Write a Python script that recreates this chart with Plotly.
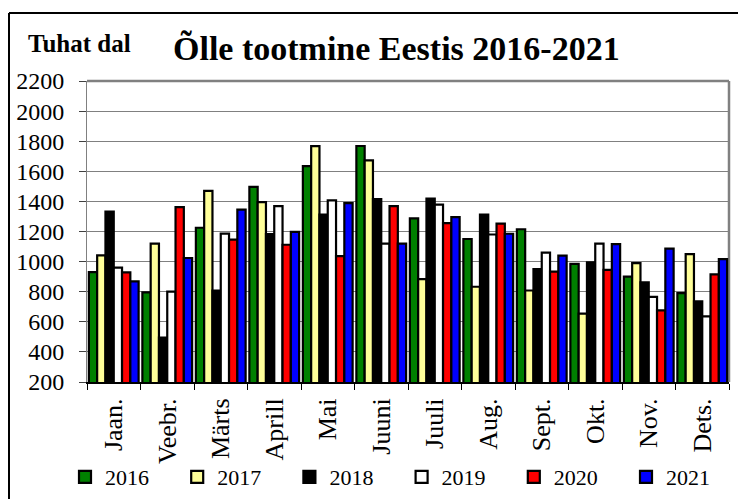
import plotly.graph_objects as go

months = ["Jaan.", "Veebr.", "Märts", "Aprill", "Mai", "Juuni", "Juuli", "Aug.", "Sept.", "Okt.", "Nov.", "Dets."]
years = ["2016", "2017", "2018", "2019", "2020", "2021"]
v2016 = [930, 795, 1225, 1497, 1635, 1768, 1287, 1150, 1215, 985, 900, 790]
v2017 = [1042, 1120, 1470, 1395, 1767, 1672, 883, 833, 808, 654, 990, 1050]
v2018 = [1332, 495, 808, 1182, 1312, 1416, 1418, 1312, 950, 995, 862, 736]
v2019 = [960, 800, 1186, 1368, 1407, 1120, 1378, 1180, 1060, 1120, 765, 636]
v2020 = [928, 1362, 1146, 1112, 1036, 1368, 1255, 1252, 933, 945, 676, 915]
v2021 = [868, 1024, 1345, 1198, 1388, 1120, 1296, 1185, 1040, 1116, 1086, 1017]
series = [v2016, v2017, v2018, v2019, v2020, v2021]
colors = ["#008000", "#ffff99", "#000000", "#ffffff", "#ff0000", "#0000ff"]

FONT = "Liberation Serif"

fig = go.Figure()
for name, vals, col in zip(years, series, colors):
    fig.add_trace(go.Bar(x=months, y=vals, name=name,
                         marker=dict(color=col, line=dict(color="black", width=2.2))))

L, R, T, B = 87, 9, 81, 117
W, H = 738, 499
pw, ph = W - L - R, H - T - B

def px(x):
    return (x - L) / pw

def py(y):
    return (H - B - y) / ph

fig.update_layout(
    width=W, height=H,
    margin=dict(l=L, r=R, t=T, b=B, autoexpand=False),
    paper_bgcolor="white", plot_bgcolor="white",
    barmode="group", bargap=0.07, bargroupgap=0,
    font=dict(family=FONT, color="black"),
    showlegend=True,
    legend=dict(orientation="h", x=px(65), xanchor="left", y=py(477), yanchor="middle",
                font=dict(family=FONT, size=22, color="black"),
                itemwidth=30, entrywidth=67.2, entrywidthmode="pixels",
                traceorder="normal", bgcolor="rgba(0,0,0,0)"),
    xaxis=dict(showline=True, linecolor="black", linewidth=2, automargin=False,
               ticks="outside", ticklen=6, tickcolor="black", tickson="boundaries",
               tickangle=-90, tickfont=dict(family=FONT, size=26, color="black"),
               ticklabelstandoff=4, showgrid=False),
    yaxis=dict(range=[200, 2200], dtick=200, tick0=200, automargin=False,
               showline=True, linecolor="#808080", linewidth=1,
               ticks="outside", ticklen=7, tickcolor="#404040",
               tickfont=dict(family=FONT, size=24, color="black"),
               ticklabelstandoff=10,
               showgrid=True, gridcolor="#808080", gridwidth=1),
    annotations=[
        dict(text="<b>Õlle tootmine Eestis 2016-2021</b>", xref="paper", yref="paper",
             x=px(396.5), y=py(49), xanchor="center", yanchor="middle", showarrow=False,
             font=dict(family=FONT, size=34, color="black")),
        dict(text="<b>Tuhat dal</b>", xref="paper", yref="paper",
             x=px(79.5), y=py(44), xanchor="center", yanchor="middle", showarrow=False,
             font=dict(family=FONT, size=25, color="black")),
    ],
    shapes=[
        dict(type="line", xref="paper", yref="paper", x0=px(9), x1=px(760), y0=py(13), y1=py(13),
             line=dict(color="black", width=2)),
        dict(type="line", xref="paper", yref="paper", x0=px(9), x1=px(9), y0=py(13), y1=py(520),
             line=dict(color="black", width=2)),
        dict(type="line", xref="paper", yref="paper", x0=0, x1=1, y0=1, y1=1,
             line=dict(color="#808080", width=2.5), layer="below"),
        dict(type="line", xref="paper", yref="paper", x0=1, x1=1, y0=0, y1=1,
             line=dict(color="#808080", width=2.5), layer="below"),
    ],
)

fig.write_html("out.html", config={"displayModeBar": False},
               post_script="document.body.style.margin='0';document.body.style.overflow='hidden';")
